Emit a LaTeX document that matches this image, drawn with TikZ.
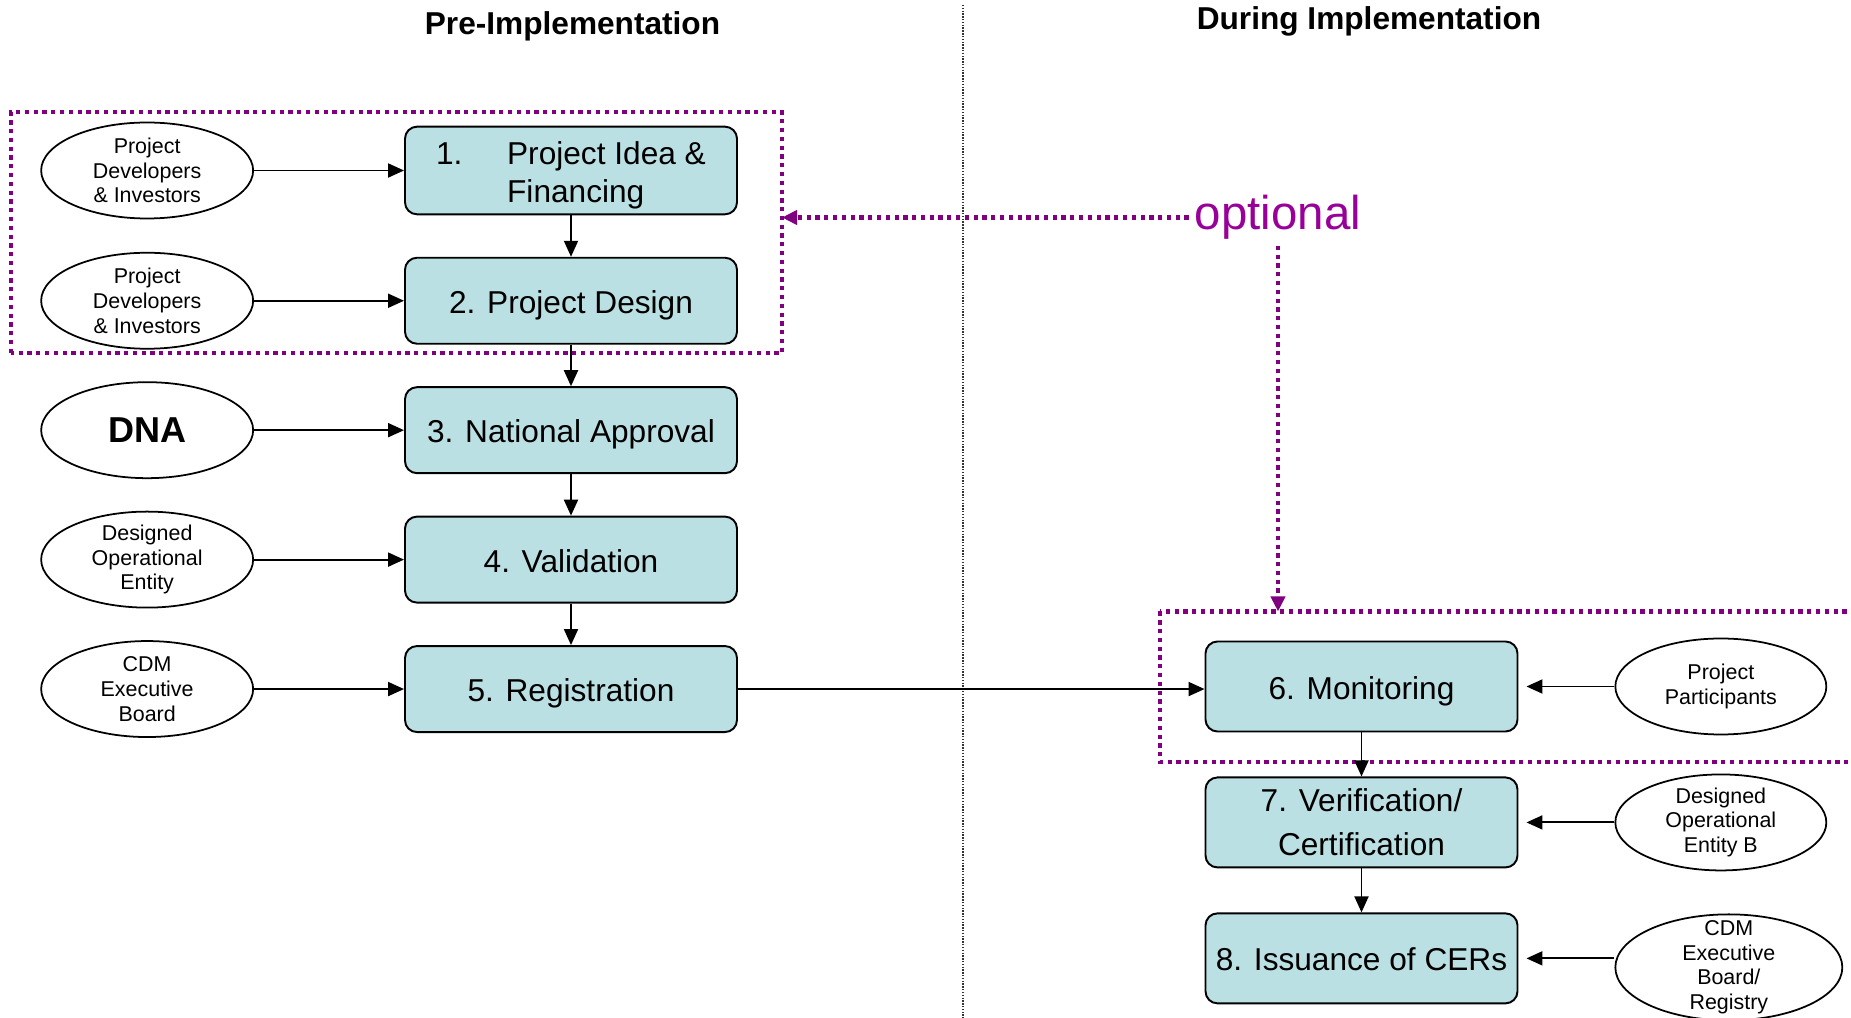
\documentclass[tikz,border=0pt]{standalone}
\usepackage{fontspec}
\setmainfont{Liberation Sans}
\usetikzlibrary{arrows.meta,positioning,shapes.geometric}
\definecolor{stepfill}{HTML}{BBE0E3}
\definecolor{optpurple}{HTML}{800080}
\definecolor{opttext}{HTML}{990099}

\begin{document}
\begin{tikzpicture}[
        node distance=0.83cm,
        block/.style={draw, line width=1.1pt, fill=stepfill, rounded corners=0.24cm, minimum height=1.72cm, minimum width=6.64cm, text height=18pt, text depth=3.7pt, font=\fontsize{18}{21.6}\selectfont},
        rblock/.style={block, minimum height=1.8cm, minimum width=6.24cm},
        party/.style={draw, line width=1pt, ellipse, minimum width=4.24cm, minimum height=1.92cm, inner sep=0pt},
        partytext/.style={align=center, font=\fontsize{12.2}{14}\selectfont},
        arrow/.style={-{Triangle[length=0.32cm,width=0.28cm]}, line width=1.1pt},
        optline/.style={optpurple, line width=2.4pt, dash pattern=on 2.4pt off 2.6pt},
        optarrow/.style={optline, -{Triangle[length=0.3cm,width=0.28cm]}},
        title/.style={font=\bfseries\fontsize{18}{22}\selectfont},
    ]
        \useasboundingbox (0,0) rectangle (37.02,-20.36);

        % phases
        \node[title] (pre) at (11.45,-0.52) {Pre-Implementation};
        \node[title] (during) at (27.38,-0.42) {During Implementation};
        \draw[line width=0.6pt, black!80, dash pattern=on 0.8pt off 0.8pt] (19.26,-0.1) -- (19.26,-20.4);

        % pre-implementation steps
        \node[block, text height=, text depth=] (idea) at (11.42,-3.41) {\raisebox{-3pt}[\height][\depth]{\begin{tabular}{@{}p{1.42cm}@{}l@{}}1. & Project Idea \&\\ & Financing\end{tabular}}};
        \node[block, below=of idea] (design) {2. Project Design};
        \node[block, below=of design] (appr) {3. National Approval};
        \node[block, below=of appr] (valid) {4. Validation};
        \node[block, below=of valid] (reg) {5. Registration};

        \node[party, left=3.0cm of idea, label={[partytext]center:Project\\Developers\\\& Investors}] (dev1) {};
        \node[party, left=3.0cm of design, label={[partytext]center:Project\\Developers\\\& Investors}] (dev2) {};
        \node[party, left=3.0cm of appr, label={[font=\bfseries\fontsize{20.5}{24}\selectfont]center:DNA}] (dna) {};
        \node[party, left=3.0cm of valid, label={[partytext]center:Designed\\Operational\\Entity}] (doe) {};
        \node[party, left=3.0cm of reg, label={[partytext]center:CDM\\Executive\\Board}] (eb) {};

        % during implementation steps
        \node[rblock] (mon) at (27.23,-13.73) {6. Monitoring};
        \node[rblock, below=0.88cm of mon, text height=, text depth=, align=center, font=\fontsize{18}{25}\selectfont] (verif) {7. Verification/\\Certification};
        \node[rblock, below=0.88cm of verif] (iss) {8. Issuance of CERs};

        \node[party, minimum width=4.22cm, right=1.92cm of mon, label={[partytext]center:Project\\Participants}] (pp) {};
        \node[party, minimum width=4.22cm, right=1.92cm of verif, label={[partytext]center:Designed\\Operational\\Entity B}] (doeb) {};
        \node[party, minimum width=4.54cm, minimum height=2.12cm, right=1.92cm of iss, yshift=-0.18cm, label={[partytext]center:CDM\\Executive\\Board/\\Registry}] (ebr) {};

        % optional parts
        \coordinate (o1sw) at (0.22,-7.06);
        \coordinate (o1ne) at (15.64,-2.24);
        \coordinate (o2nw) at (23.2,-12.23);
        \coordinate (o2se) at (37.6,-15.24);
        \draw[optline] (o1sw) rectangle (o1ne);
        \draw[optline] (o2nw) rectangle (o2se);
        \node[font=\fontsize{27}{32}\selectfont, text=opttext] (opt) at (25.56,-4.35) {optional};
        \draw[optarrow] (opt.west) -- (opt.west -| o1ne);
        \draw[optarrow] (opt.south) -- (opt.south |- o2nw);

        % flow
        \draw[arrow] (idea) -- (design);
        \draw[arrow] (design) -- (appr);
        \draw[arrow] (appr) -- (valid);
        \draw[arrow] (valid) -- (reg);
        \draw[arrow] (reg.east) -- (reg.east -| mon.west);
        \draw[arrow] (mon) -- (verif);
        \draw[arrow] (verif) -- (iss);

        \draw[arrow] (dev1) -- (idea);
        \draw[arrow] (dev2) -- (design);
        \draw[arrow] (dna) -- (appr);
        \draw[arrow] (doe) -- (valid);
        \draw[arrow] (eb) -- (reg);
        \draw[arrow, shorten >=0.16cm] (pp) -- (mon);
        \draw[arrow, shorten >=0.16cm] (doeb) -- (verif);
        \draw[arrow, shorten >=0.16cm] (ebr.west |- iss) -- (iss);
    \end{tikzpicture}
\end{document}
